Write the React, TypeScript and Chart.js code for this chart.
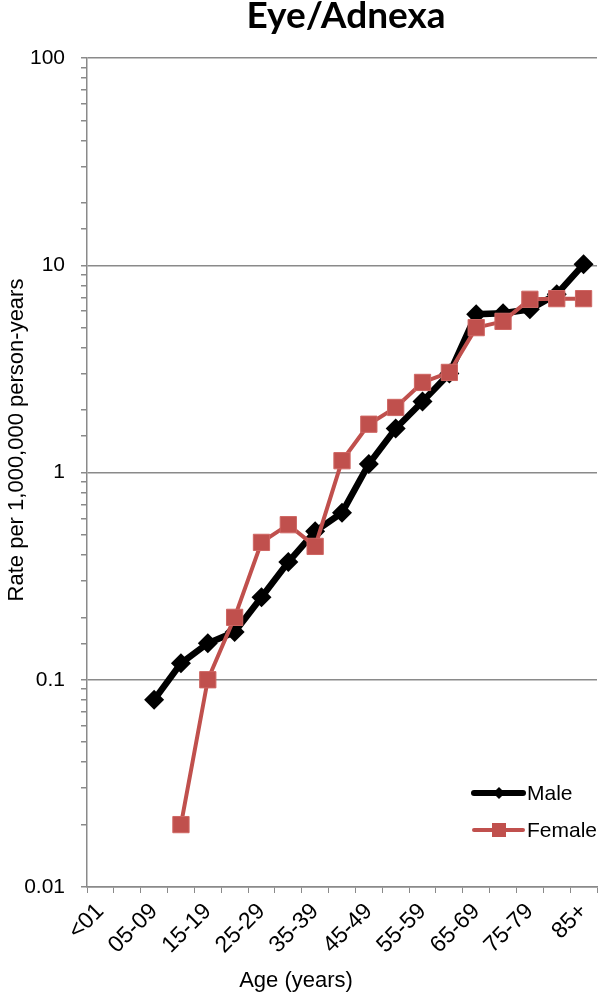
import React, { useEffect, useRef } from 'react';
import { Chart, registerables } from 'chart.js';

Chart.register(...registerables);

const titleText = 'Eye/Adnexa';
const categories = ['<01', '01-04', '05-09', '10-14', '15-19', '20-24', '25-29', '30-34', '35-39', '40-44', '45-49', '50-54', '55-59', '60-64', '65-69', '70-74', '75-79', '80-84', '85+'];
const maleRates: (number | null)[] = [null, null, 0.08, 0.12, 0.15, 0.17, 0.25, 0.37, 0.52, 0.64, 1.1, 1.63, 2.2, 3.0, 5.8, 5.87, 6.13, 7.25, 10.1];
const femaleRates: (number | null)[] = [null, null, null, 0.02, 0.1, 0.2, 0.46, 0.56, 0.44, 1.14, 1.71, 2.06, 2.72, 3.04, 5.0, 5.36, 6.85, 6.9, 6.9];
const yTickValues = [0.01, 0.1, 1, 10, 100];
const yTickLabels = ['0.01', '0.1', '1', '10', '100'];
const seriesNames = ['Male', 'Female'];
const xTitle = 'Age (years)';
const yTitle = 'Rate per 1,000,000 person-years';

const FONT = "'Liberation Sans', Arial, sans-serif";
const GRID = '#8a8a8a';
const MALE_COLOR = '#000000';
const FEMALE_COLOR = '#C0504D';

const isMajor = (v: number) => yTickValues.some((t) => Math.abs(Math.log10(t) - Math.log10(v)) < 1e-6);

const overlayPlugin = {
  id: 'overlay',
  afterDraw(chart: any) {
    const ctx = chart.ctx as CanvasRenderingContext2D;
    const area = chart.chartArea;
    ctx.save();
    // title
    ctx.fillStyle = '#000';
    ctx.font = `bold 37px Lato, 'Open Sans', sans-serif`;
    ctx.textAlign = 'center';
    ctx.textBaseline = 'alphabetic';
    ctx.fillText(titleText, (area.left + area.right) / 2 + 4, 28);
    // axis titles
    ctx.font = `22px ${FONT}`;
    ctx.fillText(xTitle, area.left + 209, 987);
    ctx.save();
    ctx.translate(17, area.top + 382);
    ctx.rotate(-Math.PI / 2);
    ctx.textBaseline = 'middle';
    ctx.fillText(yTitle, 0, 0);
    ctx.restore();
    // legend
    const lx = area.right - 123;
    const rows = [
      { y: area.bottom - 94, color: MALE_COLOR, width: 6, shape: 'diamond' },
      { y: area.bottom - 57, color: FEMALE_COLOR, width: 4, shape: 'square' },
    ];
    rows.forEach((r, i) => {
      ctx.strokeStyle = r.color;
      ctx.lineWidth = r.width;
      ctx.lineCap = 'round';
      ctx.beginPath();
      ctx.moveTo(lx, r.y);
      ctx.lineTo(lx + 49, r.y);
      ctx.stroke();
      ctx.fillStyle = r.color;
      const cx = lx + 25;
      ctx.beginPath();
      if (r.shape === 'diamond') {
        ctx.moveTo(cx - 6, r.y);
        ctx.lineTo(cx, r.y - 6);
        ctx.lineTo(cx + 6, r.y);
        ctx.lineTo(cx, r.y + 6);
        ctx.closePath();
      } else {
        ctx.rect(cx - 7, r.y - 7, 14, 14);
      }
      ctx.fill();
      ctx.fillStyle = '#000';
      ctx.font = `21px ${FONT}`;
      ctx.textAlign = 'left';
      ctx.textBaseline = 'middle';
      ctx.fillText(seriesNames[i], lx + 53, r.y + 1);
    });
    ctx.restore();
  },
};

export default function App() {
  const ref = useRef<HTMLCanvasElement | null>(null);
  useEffect(() => {
    if (!ref.current) return;
    Chart.defaults.font.family = FONT;
    Chart.defaults.color = '#000';
    const chart = new Chart(ref.current, {
      type: 'line',
      data: {
        labels: categories,
        datasets: [
          {
            label: seriesNames[0],
            data: maleRates,
            borderColor: MALE_COLOR,
            backgroundColor: MALE_COLOR,
            borderWidth: 6.5,
            pointStyle: 'rectRot',
            pointRadius: 10,
            pointBorderWidth: 0,
            pointBackgroundColor: MALE_COLOR,
            spanGaps: false,
            order: 1,
          },
          {
            label: seriesNames[1],
            data: femaleRates,
            borderColor: FEMALE_COLOR,
            backgroundColor: FEMALE_COLOR,
            borderWidth: 4,
            pointStyle: 'rect',
            pointRadius: 11.5,
            pointBorderWidth: 1,
            pointBorderColor: '#CF6663',
            pointBackgroundColor: FEMALE_COLOR,
            order: 0,
          },
        ],
      },
      options: {
        responsive: false,
        animation: false,
        layout: { autoPadding: false, padding: { top: 58, right: 3, left: 0, bottom: 0 } },
        plugins: {
          legend: { display: false },
          title: { display: false },
          tooltip: { enabled: false },
        },
        scales: {
          x: {
            type: 'category',
            offset: true,
            grid: { drawOnChartArea: false, offset: true, color: GRID, tickLength: 6 },
            border: { color: GRID, width: 1.5 },
            ticks: {
              autoSkip: false,
              maxRotation: 45,
              minRotation: 45,
              padding: 5,
              font: { size: 23 },
              color: '#000',
              callback: (_v: any, i: number) => (i % 2 === 0 ? categories[i] : ''),
            },
            title: { display: false },
            afterFit: (s: any) => {
              s.height = 106;
              s.paddingLeft = 0;
              s.paddingRight = 0;
            },
          },
          y: {
            type: 'logarithmic',
            min: 0.01,
            max: 100,
            grid: {
              color: (c: any) => (c.tick && isMajor(c.tick.value) ? GRID : 'rgba(0,0,0,0)'),
              tickColor: GRID,
              tickLength: 6,
              lineWidth: 1.5,
            },
            border: { color: GRID, width: 1.5 },
            ticks: {
              autoSkip: false,
              padding: 16,
              font: { size: 21 },
              color: '#000',
              callback: (v: any) => {
                const i = yTickValues.findIndex((t) => Math.abs(Math.log10(t) - Math.log10(Number(v))) < 1e-6);
                return i >= 0 ? yTickLabels[i] : '';
              },
            },
            title: { display: false },
            afterFit: (s: any) => {
              s.width = 87;
              s.paddingTop = 0;
              s.paddingBottom = 0;
            },
          },
        },
      },
      plugins: [overlayPlugin],
    });
    return () => chart.destroy();
  }, []);
  return (
    <div style={{ position: 'absolute', left: 0, top: 0, width: 600, height: 993, background: '#fff' }}>
      <canvas ref={ref} width={600} height={993} style={{ display: 'block', width: 600, height: 993 }} />
    </div>
  );
}
